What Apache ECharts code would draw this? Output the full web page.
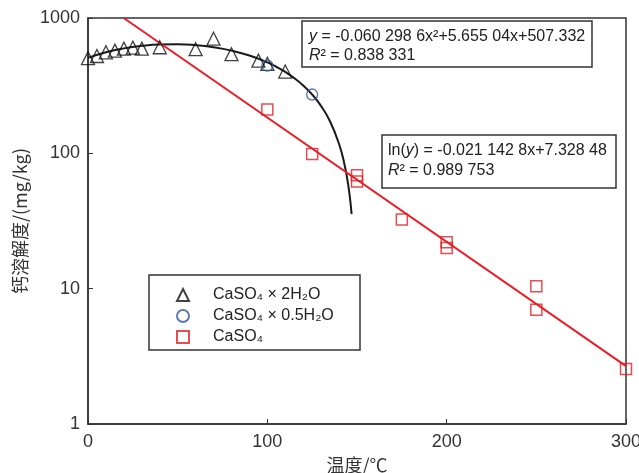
<!DOCTYPE html>
<html><head><meta charset="utf-8">
<script src="https://cdn.jsdelivr.net/npm/echarts@6/dist/echarts.min.js"></script>
<style>html,body{margin:0;padding:0;background:#fff}#c{width:639px;height:473px}</style>
</head><body><div id="c"></div>
<script>
// CaSO4·2H2O (triangles)
const dihydrateX = [0,5,10,15,20,25,30,40,60,70,80,95,100,110];
const dihydrateY = [505,524,558,574,594,604,594,608,588,703,540,484,458,402];
// CaSO4·0.5H2O (circles)
const hemihydrateX = [100,125];
const hemihydrateY = [445,272];
// CaSO4 (squares)
const anhydriteX = [100,125,150,150,175,200,200,250,250,300];
const anhydriteY = [211,99,69,62,32.5,22,20,10.4,7.0,2.55];
// fitted curves
const polyFitX = [0,10,20,30,40,50,60,70,80,90,100,105,110,115,120,125,130,135,140,143,145,146,147];
const polyFitY = [507.3,557.9,596.3,622.7,637.1,639.3,629.6,607.7,573.8,527.9,469.8,436.3,399.8,360.2,317.6,272.0,223.4,171.8,117.2,83.0,59.5,47.6,35.6];
const expFitX = [19.9,300];
const expFitY = [1000,2.68];
const xTicks = [0,100,200,300];
const yTicks = [1,10,100,1000];
const seriesNames = ['CaSO₄ × 2H₂O','CaSO₄ × 0.5H₂O','CaSO₄'];

const zip = (a,b) => a.map((v,i)=>[v,b[i]]);
const FONT = 'Liberation Sans, Arial, sans-serif';
const chart = echarts.init(document.getElementById('c'), null, {renderer:'canvas'});
chart.setOption({
  backgroundColor:'#fff',
  animation:false,
  grid:{left:88,right:13,top:18,bottom:49,outerBoundsMode:'none',containLabel:false,show:true,borderColor:'#333',borderWidth:1.5,backgroundColor:'transparent'},
  xAxis:{type:'value',min:xTicks[0],max:xTicks[xTicks.length-1],interval:100,
    name:'温度/℃',nameLocation:'middle',nameGap:28,
    nameTextStyle:{fontSize:18,color:'#333',fontFamily:'Noto Sans CJK SC'},
    axisLine:{lineStyle:{color:'#333',width:1.5}},
    axisTick:{inside:true,length:5,lineStyle:{color:'#333'}},
    axisLabel:{fontSize:18,color:'#333',margin:9,fontFamily:FONT},
    splitLine:{show:false}},
  yAxis:{type:'log',logBase:10,min:yTicks[0],max:yTicks[yTicks.length-1],
    name:'钙溶解度/(mg/kg)',nameLocation:'middle',nameGap:54,
    nameTextStyle:{fontSize:18,color:'#333',fontFamily:'Noto Sans CJK SC'},
    axisLine:{lineStyle:{color:'#333',width:1.5}},
    axisTick:{inside:true,length:5,lineStyle:{color:'#333'}},
    axisLabel:{fontSize:18,color:'#333',margin:8,fontFamily:FONT,formatter:v=>String(v)},
    minorTick:{show:false},
    splitLine:{show:false}},
  legend:{data:seriesNames,orient:'vertical',left:171,top:282,itemWidth:12,itemHeight:12,itemGap:5,
    textStyle:{fontSize:16,color:'#222',fontFamily:FONT,padding:[0,0,0,19]}},
  series:[
    {type:'line',data:zip(polyFitX,polyFitY),showSymbol:false,smooth:true,lineStyle:{color:'#1a1a1a',width:2},silent:true,z:2},
    {type:'line',data:zip(expFitX,expFitY),showSymbol:false,lineStyle:{color:'#ee1c25',width:2},silent:true,z:2},
    {name:seriesNames[0],type:'scatter',symbol:'triangle',symbolSize:13,data:zip(dihydrateX,dihydrateY),
      itemStyle:{color:'rgba(0,0,0,0)',borderColor:'#111',borderWidth:1.3},z:3},
    {name:seriesNames[1],type:'scatter',symbol:'circle',symbolSize:11,data:zip(hemihydrateX,hemihydrateY),
      itemStyle:{color:'rgba(0,0,0,0)',borderColor:'#3358a8',borderWidth:1.4},z:3},
    {name:seriesNames[2],type:'scatter',symbol:'rect',symbolSize:11,data:zip(anhydriteX,anhydriteY),
      itemStyle:{color:'rgba(0,0,0,0)',borderColor:'#e31e24',borderWidth:1.5},z:3}
  ],
  graphic:[
    {type:'rect',shape:{x:302,y:21,width:290,height:46},style:{fill:'#fff',stroke:'#333',lineWidth:1.5},z:10},
    {type:'text',x:309,y:27,z:11,style:{text:'{i|y} = -0.060 298 6x²+5.655 04x+507.332\n{i|R}² = 0.838 331',
      font:'16px '+FONT,fill:'#222',lineHeight:19,rich:{i:{fontStyle:'italic',fontSize:16,fontFamily:FONT,fill:'#222',lineHeight:19}}}},
    {type:'rect',shape:{x:382,y:135,width:234,height:53},style:{fill:'#fff',stroke:'#333',lineWidth:1.5},z:10},
    {type:'text',x:388,y:141,z:11,style:{text:'ln({i|y}) = -0.021 142 8x+7.328 48\n{i|R}² = 0.989 753',
      font:'16px '+FONT,fill:'#222',lineHeight:20,rich:{i:{fontStyle:'italic',fontSize:16,fontFamily:FONT,fill:'#222',lineHeight:20}}}},
    {type:'rect',shape:{x:149,y:275,width:211,height:75},style:{fill:'none',stroke:'#333',lineWidth:1.5},z:10}
  ]
});
</script></body></html>
